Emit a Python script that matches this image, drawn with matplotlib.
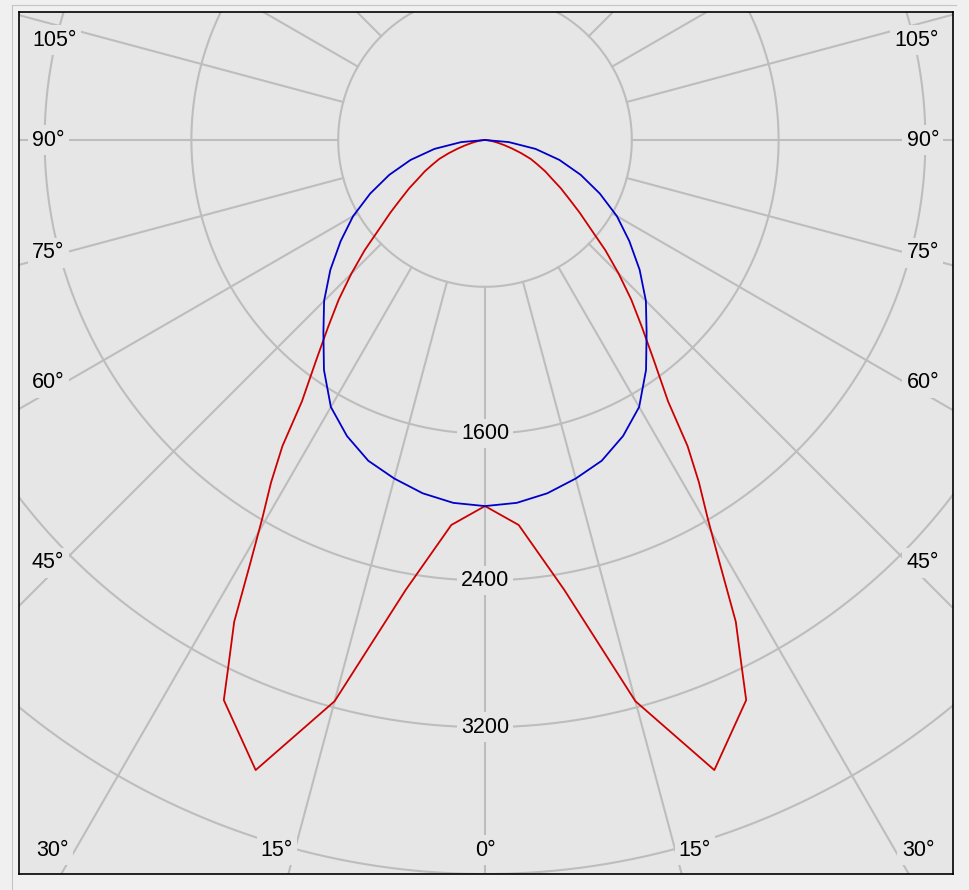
import numpy as np
import matplotlib.pyplot as plt
from matplotlib.lines import Line2D

# Light distribution curve, intensities in cd, angle measured from nadir.
# Only one half of each plane is listed, the curves are symmetric.
blue_angles = [0, 5, 10, 15, 20, 25, 30, 35, 40, 45, 50, 55, 60, 65, 70, 75, 80, 85, 90]
blue_cd = [1995, 1985, 1955, 1910, 1860, 1780, 1680, 1530, 1370, 1240, 1100,
           960, 830, 690, 555, 420, 280, 130, 0]

red_angles = [0, 5, 10, 15, 20, 25, 26, 27.5, 29, 30.5, 32, 33.5, 35, 37.5, 40,
              42.5, 45, 47.5, 50, 52.5, 55, 57.5, 60, 62.5, 65, 67.5, 70, 72.5,
              75, 77.5, 80, 82.5, 85, 87.5, 90]
red_cd = [1995, 2106, 2490, 3166, 3654, 3368, 3190, 2960, 2640, 2390, 2200, 2000,
          1740, 1510, 1330, 1180, 1030, 890, 750, 650, 560, 490, 420, 370, 315,
          270, 210, 155, 110, 75, 48, 28, 12, 4, 0]

ring_values = [800, 1600, 2400, 3200, 4000]
ring_labels = [1600, 2400, 3200]
spoke_angles = np.arange(0, 360, 15)

left_labels = ['105°', '90°', '75°', '60°', '45°']
bottom_labels = ['30°', '15°', '0°', '15°', '30°']

bg = '#e6e6e6'
grid_col = '#bdbdbd'
W, H = 969, 890
s = 4000 / 734  # cd per pixel


def mirror(ang, val):
    ang = np.asarray(ang, float)
    val = np.asarray(val, float)
    a = np.concatenate([-ang[::-1], ang[1:]])
    v = np.concatenate([val[::-1], val[1:]])
    return a, v


def to_xy(ang, val):
    t = np.radians(ang)
    return val * np.sin(t), -val * np.cos(t)


fig = plt.figure(figsize=(W / 100, H / 100), dpi=100, facecolor='#f0f0f0')
ax = fig.add_axes([19 / W, 1 - 874 / H, 934 / W, 862 / H], facecolor=bg)
ax.set_xlim(-466 * s, 468 * s)
ax.set_ylim(-734 * s, 128 * s)
ax.set_xticks([])
ax.set_yticks([])
for sp in ax.spines.values():
    sp.set_color('black')
    sp.set_linewidth(1.2)

# grid rings and spokes
tt = np.linspace(0, 2 * np.pi, 721)
for r in ring_values:
    ax.plot(r * np.sin(tt), r * np.cos(tt), color=grid_col, lw=1.5, zorder=1)
for a in spoke_angles:
    x, y = to_xy(np.array([a, a]), np.array([ring_values[0], 8000]))
    ax.plot(x, y, color=grid_col, lw=1.5, zorder=1)

# curves
x, y = to_xy(*mirror(red_angles, red_cd))
ax.plot(x, y, color='#cc0000', lw=1.3, zorder=3)
x, y = to_xy(*mirror(blue_angles, blue_cd))
ax.plot(x, y, color='#0000c8', lw=1.3, zorder=4)

font = dict(family=['Liberation Sans', 'DejaVu Sans'], size=15.5, color='black')
box = dict(boxstyle='square,pad=0.2', fc=bg, ec='none')

for r in ring_labels:
    ax.text(0, -r, str(r), ha='center', va='center', bbox=box, zorder=5, **font)


def frac(px, py):
    return (px - 19) / 934, 1 - (py - 12) / 862


label_y = [40, 140, 253, 383, 563]
for lab, py in zip(left_labels, label_y):
    ax.text(*frac(32, py), lab, transform=ax.transAxes, ha='left', va='center',
            bbox=box, zorder=5, **font)
    ax.text(*frac(939, py), lab, transform=ax.transAxes, ha='right', va='center',
            bbox=box, zorder=5, **font)

bottom_x = [52, 277, 485, 695, 918]
for lab, px in zip(bottom_labels, bottom_x):
    ax.text(*frac(px, 850), lab, transform=ax.transAxes, ha='center', va='center',
            bbox=box, zorder=5, **font)

# thin outer panel border
fig.add_artist(Line2D([12 / W, 12 / W], [0, 1 - 5 / H], color='#c4c4c4', lw=0.8))
fig.add_artist(Line2D([12 / W, 956 / W], [1 - 5 / H, 1 - 5 / H], color='#c4c4c4', lw=0.8))

fig.savefig('out.png', dpi=100, facecolor=fig.get_facecolor())
